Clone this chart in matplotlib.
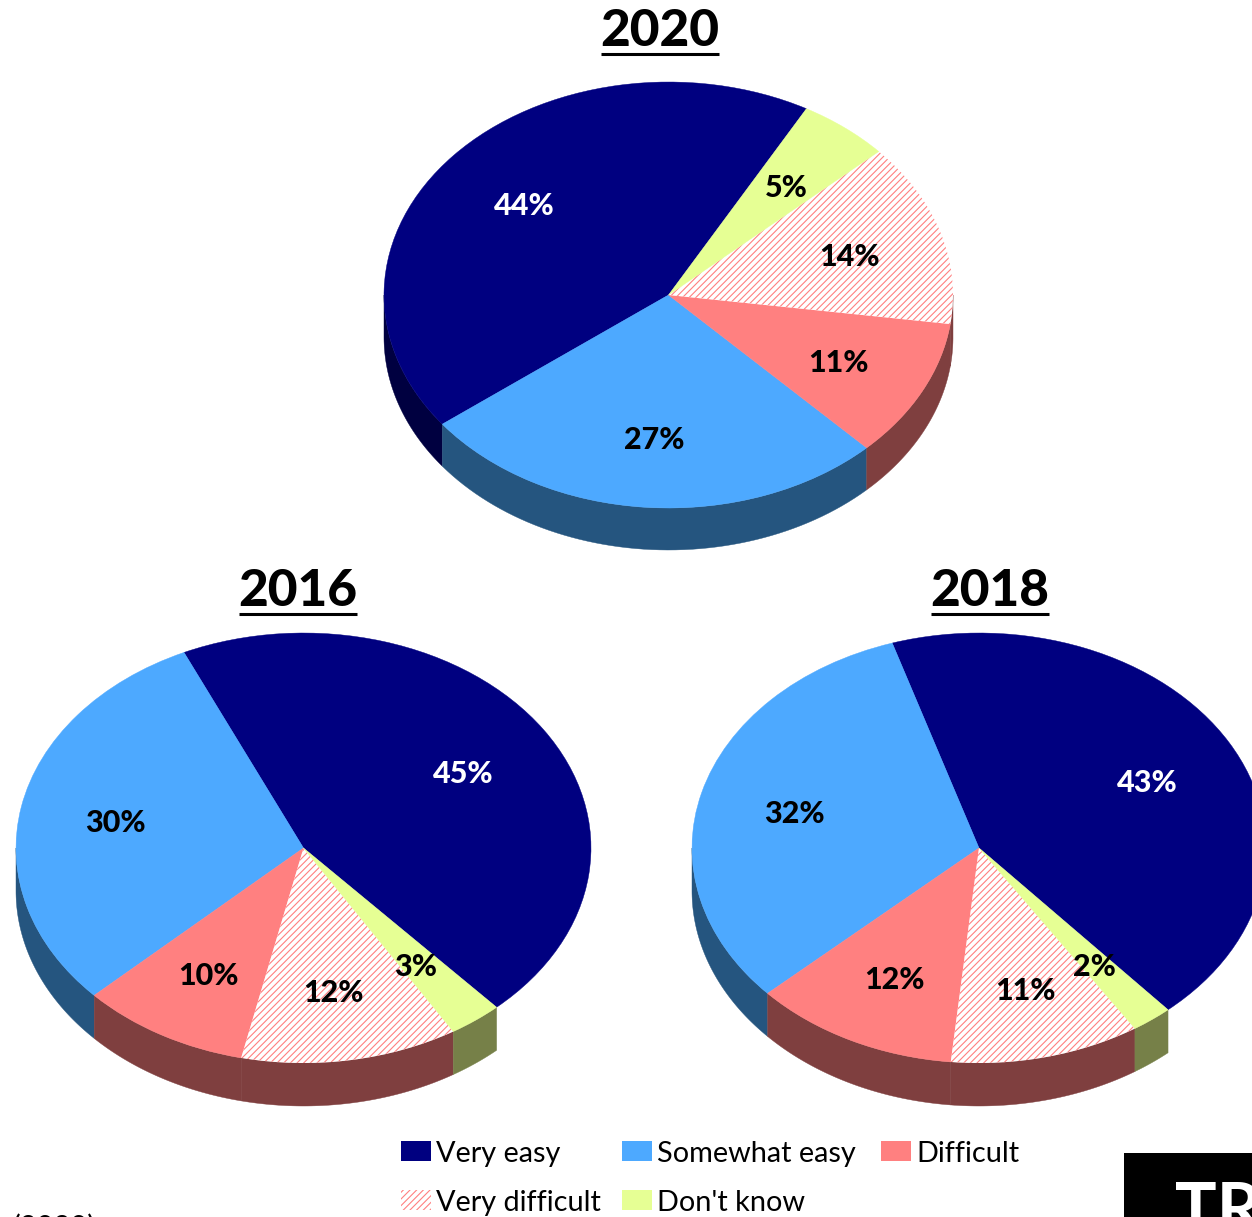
import matplotlib
matplotlib.use("Agg")
import matplotlib.pyplot as plt
import numpy as np
from matplotlib.patches import Wedge, Polygon, Rectangle
from matplotlib.transforms import Affine2D

plt.rcParams['font.family'] = ['Lato', 'DejaVu Sans']
plt.rcParams['hatch.linewidth'] = 0.8

categories = ["Very easy", "Somewhat easy", "Difficult", "Very difficult", "Don't know"]
# the labels show them rounded
values_2020 = [43.6, 27.0, 10.6, 14.0, 5.2]
values_2016 = [45.1, 30.2, 9.5, 12.2, 3.0]
values_2018 = [43.4, 31.9, 11.6, 10.7, 2.3]

colors = ["#000080", "#4da9ff", "#ff8080", "white", "#e6ff94"]
wall_colors = ["#000040", "#25557f", "#7f3f3f", "#7f3f3f", "#768048"]
red = "#ff8080"

W, H = 1252, 1217
fig = plt.figure(figsize=(W / 100, H / 100), dpi=100)
ax = fig.add_axes([0, 0, 1, 1])
ax.set_xlim(0, W)
ax.set_ylim(H, 0)
ax.axis("off")


def pie3d(values, cx, cy, rx, ry, depth, start, label_pos, title, title_x, title_y):
    total = sum(values)
    a = start
    tr = Affine2D().scale(rx, -ry).translate(cx, cy) + ax.transData
    for i, v in enumerate(values):
        b = a + 360 * v / total
        # side wall, only the front part (180-360 deg) is visible
        for k in (0, 360):
            lo = max(a, 180 + k)
            hi = min(b, 360 + k)
            if hi > lo:
                th = np.radians(np.linspace(lo, hi, 60))
                top = np.c_[cx + rx * np.cos(th), cy - ry * np.sin(th)]
                bot = top[::-1] + [0, depth]
                ax.add_patch(Polygon(np.r_[top, bot], closed=True, fc=wall_colors[i],
                                     ec=wall_colors[i], lw=0.3, zorder=2))
        if i == 3:
            ax.add_patch(Wedge((0, 0), 1, a, b, transform=tr, fc="white", ec=red,
                               hatch="/////", lw=0, zorder=3))
        else:
            ax.add_patch(Wedge((0, 0), 1, a, b, transform=tr, fc=colors[i], ec=colors[i],
                               lw=0.3, zorder=3))
        lx, ly = label_pos[i]
        ax.text(lx, ly + 3, f"{v:.0f}%", ha="center", va="center", fontsize=22, fontweight="black",
                color="white" if i == 0 else "black", zorder=5)
        a = b
    ax.text(title_x, title_y + 3, title, ha="center", va="center", fontsize=37,
            fontweight="black", color="black", zorder=5)
    ax.plot([title_x - 59, title_x + 59], [title_y + 25, title_y + 25], color="black",
            lw=2.2, solid_capstyle="butt")


pie3d(values_2020, 668.5, 295, 284.5, 213, 42, 61,
      [(524, 203), (654, 437), (838, 360), (849, 254), (786, 185)], "2020", 660, 29)
pie3d(values_2016, 303.5, 848, 287.5, 215, 43, -47.8,
      [(463, 771), (115, 820), (208, 973), (333, 990), (416, 964)], "2016", 298, 589)
pie3d(values_2018, 979, 848, 287, 215, 43, -48.8,
      [(1147, 780), (794, 811), (894, 977), (1025, 988), (1094, 964)], "2018", 990, 589)

# legend, laid out by hand like the original
legend_pos = [(401, 1141), (622, 1141), (881, 1141), (401, 1190), (622, 1190)]
for i, (lx, ly) in enumerate(legend_pos):
    if i == 3:
        ax.add_patch(Rectangle((lx, ly), 30, 20, fc="white", ec=red, hatch="/////", lw=0))
    else:
        ax.add_patch(Rectangle((lx, ly), 30, 20, fc=colors[i], lw=0))
    ax.text(lx + 35, ly + 13, categories[i], ha="left", va="center", fontsize=20.8, color="black")

ax.text(13, 1227, "(2020)", ha="left", va="center", fontsize=21, color="black")
ax.add_patch(Rectangle((1124, 1153), 128, 64, fc="black", lw=0))
ax.text(1175, 1213, "TR", ha="left", va="center", fontsize=50, fontweight="bold",
        color="white", clip_on=True)

fig.savefig("out.png", dpi=100)
